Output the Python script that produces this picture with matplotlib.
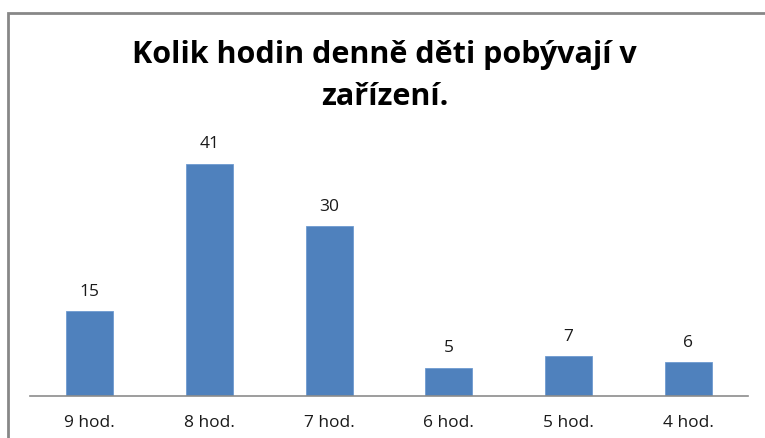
import matplotlib.pyplot as plt
from matplotlib.patches import Rectangle
import numpy as np

categories = ['9 hod.', '8 hod.', '7 hod.', '6 hod.', '5 hod.', '4 hod.']
values = [15, 41, 30, 5, 7, 6]
title = 'Kolik hodin denně děti pobývají v\nzařízení.'

fig = plt.figure(figsize=(7.65, 4.38), dpi=100)
fig.patch.set_facecolor('white')

# chart frame (cut off at right and bottom like the screenshot)
fig.patches.append(Rectangle((7.5 / 765, -0.05), 1.2, (438 - 12.5) / 438 + 0.05,
                             transform=fig.transFigure, fill=False,
                             edgecolor='#878787', linewidth=2))

ax = fig.add_axes([30 / 765, 42 / 438, 718 / 765, 255 / 438])
x = np.arange(len(categories))
bars = ax.bar(x, values, width=0.39, color='#4F81BD', edgecolor='#6F9AD0', linewidth=0.6)

for xi, v in zip(x, values):
    ax.text(xi, v + 3.4, str(v), ha='center', va='center', fontsize=12.5,
            family='Open Sans', color='#1a1a1a')

ax.set_xlim(-0.5, len(categories) - 0.5)
ax.set_ylim(0, 45)
ax.set_yticks([])
ax.set_xticks(x)
ax.set_xticklabels(categories, fontsize=12.5, family='Open Sans', color='#1a1a1a')
ax.tick_params(axis='x', length=0, pad=14)
for s in ['top', 'right', 'left']:
    ax.spines[s].set_visible(False)
ax.spines['bottom'].set_color('#8c8c8c')
ax.spines['bottom'].set_linewidth(1.2)

fig.text(0.503, 1 - 76 / 438, title, ha='center', va='center', fontsize=22,
         fontweight='bold', family='Open Sans', linespacing=1.5, color='black')

fig.savefig('out.png', dpi=100)
